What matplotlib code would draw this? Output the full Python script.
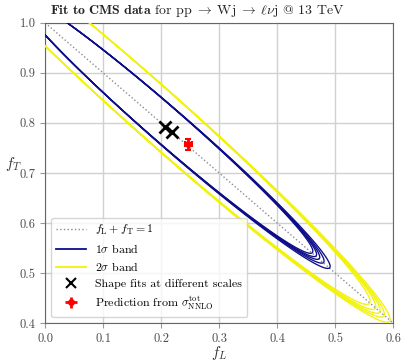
import numpy as np
import matplotlib
matplotlib.use('Agg')
import matplotlib.pyplot as plt
from matplotlib.lines import Line2D

plt.rcParams['font.family'] = ['cmr10', 'DejaVu Serif']
plt.rcParams['mathtext.fontset'] = 'cm'
plt.rcParams['axes.formatter.use_mathtext'] = True

# shape fits at different scales
fL_fits = [0.207, 0.219]
fT_fits = [0.792, 0.782]

# prediction from sigma_tot NNLO
fL_pred = 0.247
fT_pred = 0.757
fL_pred_err = 0.006
fT_pred_err = 0.011

# fit contours, one per scale, in s = fL - fT (along) and d = fL + fT - 1 (across)
# all share the far (off-chart) end, they only differ towards the tip
s1_far = -1.10
s1_tip = [-0.020, -0.041, -0.056, -0.067, -0.080]
d1_width = 0.048
d1_centre = 0.004   # band centre at s = s_mid
tilt1 = -0.006

s2_far = -1.40
s2_tip = [0.190, 0.170, 0.155, 0.140, 0.120]
d2_width = 0.068
d2_centre = 0.009
tilt2 = -0.016

s_mid = -0.6

blue = '#0d0d8a'
yellow = '#f2f20a'

fig = plt.figure(figsize=(4.07, 3.63), dpi=100)
fig.subplots_adjust(left=0.111, right=0.966, bottom=0.110, top=0.937)
ax = fig.add_subplot(111)

fL = np.linspace(-0.4, 0.9, 1200)
fT = np.linspace(0.1, 1.4, 1200)
FL, FT = np.meshgrid(fL, fT)
S = FL - FT
D = FL + FT - 1

def chi2(s_far, s_tip, a0, b0, dc, t):
    a = (s_tip - s_far) / 2
    sc = (s_tip + s_far) / 2
    b = b0 * np.sqrt(a / a0)
    return ((S - sc) / a) ** 2 + ((D - dc - t * (S - s_mid)) / b) ** 2

a2_ref = (s2_tip[0] - s2_far) / 2
for tip in s2_tip:
    ax.contour(FL, FT, chi2(s2_far, tip, a2_ref, d2_width, d2_centre, tilt2), levels=[1.0],
               colors=yellow, linewidths=0.95, zorder=3)
a1_ref = (s1_tip[0] - s1_far) / 2
for tip in s1_tip:
    ax.contour(FL, FT, chi2(s1_far, tip, a1_ref, d1_width, d1_centre, tilt1), levels=[1.0],
               colors=blue, linewidths=0.95, zorder=4)

diag = np.array([0.0, 0.6])
ax.plot(diag, 1 - diag, ls=':', color='0.55', lw=1.0, zorder=2)

ax.plot(fL_fits, fT_fits, 'x', color='black', ms=8, mew=2, ls='none', zorder=6)
ax.errorbar(fL_pred, fT_pred, xerr=fL_pred_err, yerr=fT_pred_err, fmt='o',
            color='red', ms=4, elinewidth=2, capsize=2.5, capthick=1.5, zorder=7)

handles = [
    Line2D([], [], ls=':', color='0.55', lw=1.0),
    Line2D([], [], color=blue, lw=1.3),
    Line2D([], [], color=yellow, lw=1.3),
    Line2D([], [], marker='x', color='black', ms=7, mew=1.5, ls='none'),
]
eb = ax.errorbar([], [], xerr=[], yerr=[], fmt='o', color='red', ms=4,
                 elinewidth=2, capsize=2.5, capthick=1.5)
handles.append(eb)
labels = [r'$f_\mathrm{L} + f_\mathrm{T} = 1$', r'$1\sigma$ band', r'$2\sigma$ band',
          'Shape fits at different scales', r'Prediction from $\sigma^\mathrm{tot}_\mathrm{NNLO}$']
leg = ax.legend(handles, labels, loc='lower left', fontsize=8.6, handlelength=2.5,
                framealpha=0.8, edgecolor='0.8', labelspacing=0.45)
leg.set_zorder(10)

ax.set_xlim(0.0, 0.6)
ax.set_ylim(0.4, 1.0)
ax.set_xticks(np.arange(0.0, 0.61, 0.1))
ax.set_yticks(np.arange(0.4, 1.01, 0.1))
ax.xaxis.set_major_formatter(matplotlib.ticker.FormatStrFormatter('%.1f'))
ax.yaxis.set_major_formatter(matplotlib.ticker.FormatStrFormatter('%.1f'))
ax.grid(color='0.82', lw=1.0, zorder=0)
ax.set_axisbelow(True)
ax.tick_params(labelsize=9, colors='0.3', length=3.5)
ax.tick_params(axis='both', color='0.6')
for sp in ax.spines.values():
    sp.set_color('0.4')

ax.set_xlabel(r'$f_L$', fontsize=11, color='0.2', labelpad=-1)
ax.set_ylabel(r'$f_T$', fontsize=11, color='0.2', rotation=0)
ax.yaxis.set_label_coords(-0.09, 0.5)

ax.text(0.014, 1.012,
        r'$\mathbf{Fit\ to\ CMS\ data}$ for pp$\;\rightarrow\;$Wj$\;\rightarrow\;\ell\nu$j @ 13 TeV',
        transform=ax.transAxes, ha='left', va='bottom', fontsize=10, color='0.15')

fig.savefig('out.png', dpi=100)
